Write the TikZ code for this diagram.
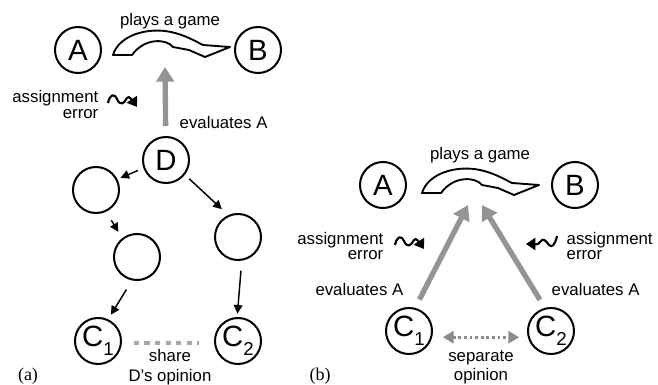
\documentclass[tikz,border=0pt]{standalone}
\usepackage{fontspec}
\setmainfont{Liberation Sans}
\newfontfamily\tagfont{Liberation Serif}
\usetikzlibrary{arrows.meta,positioning,calc}
\newcommand{\csub}[1]{\raisebox{-6.5pt}{\fontsize{14}{14}\selectfont #1}}

\begin{document}
\begin{tikzpicture}[x=0.75pt,y=-0.75pt,>=Stealth,
  every node/.style={font=\fontsize{12.6}{12}\selectfont},
  agent/.style={circle,draw,line width=1.5pt,minimum size=34.5pt,inner sep=0pt,font=\fontsize{22}{22}\selectfont},
  link/.style={-{Triangle[width=6.5pt,length=6.5pt]},line width=1.1pt},
  evalarrow/.style={-{Triangle[width=13pt,length=11pt]},line width=4pt,black!42},
  squig/.style={-{Triangle[width=9pt,length=7pt]},line width=1.6pt,line join=round},
  gamearrow/.pic={\draw[line width=1.4pt,fill=white,line join=round] (0,0) .. controls (6,-20) and (35,-28) .. (58,-23) .. controls (72,-20) and (82,-14) .. (90,-10) -- (117,-8) -- (92,2) -- (76,-5) -- (60,-8) .. controls (54,-16) and (32,-18) .. (19,0) -- cycle;}]
  \useasboundingbox (0,0) rectangle (658,385);
  % (a) one judge D, opinion passed down to C1 and C2
  \node[agent] (A1) at (78,50) {A};
  \node[agent] (B1) at (258,50) {B};
  \node (game1) at (170,21) {plays a game};
  \pic at (113,55) {gamearrow};
  \node[agent] (D) at (166,160) {D};
  \node[agent] (m1) at (96,190) {};
  \node[agent] (m2) at (137,257) {};
  \node[agent] (m3) at (238,237) {};
  \node[agent] (C1a) at (98,341) {C\csub{1}};
  \node[agent] (C2a) at (238,341) {C\csub{2}};
  \draw[link,shorten <=4.5pt,shorten >=2.5pt] (D.200) -- (m1.27);
  \draw[link,shorten <=4.5pt,shorten >=6.5pt] (D.-38) -- (m3.114);
  \draw[link,shorten <=7.5pt,shorten >=5.5pt] (m1.-65) -- (m2.128);
  \draw[link,shorten <=8pt,shorten >=4pt] (m2.258) -- (C1a.65);
  \draw[link,shorten <=7.5pt,shorten >=2.5pt] (m3.-81) -- (C2a.92);
  \coordinate (evtop) at (165,67);
  \draw[evalarrow,shorten <=7.5pt] (D) -- (evtop);
  \node[anchor=west] (ev1) at (175,122) {evaluates A};
  \node[anchor=east,align=right] (err1) at (103,104) {assignment\\error};
  \draw[squig] (108,103) .. controls (110,94) and (114,93) .. (117,99) .. controls (120,106) and (124,104) .. (127,98) .. controls (129,95) and (132,100) .. (135,104) -- (137,107);
  \draw[black!35,line width=3.5pt,dash pattern=on 3.9pt off 4pt,shorten <=9pt,shorten >=11pt] (C1a.-5) -- (C2a.185);
  \node[align=center,font=\fontsize{12.6}{14.5}\selectfont] (share) at (170,367) {share\\D's opinion};
  \node[font=\tagfont\fontsize{13.5}{13.5}\selectfont] (tagA) at (28,376) {(a)};
  % (b) two separate judges C1 and C2
  \node[agent] (A2) at (383,185) {A};
  \node[agent] (B2) at (575,185) {B};
  \node (game2) at (480,155) {plays a game};
  \pic at (422,193) {gamearrow};
  \node[agent] (C1b) at (409,331) {C\csub{1}};
  \node[agent] (C2b) at (551,331) {C\csub{2}};
  \coordinate (tipL) at (468,205);
  \coordinate (tipR) at (482,205);
  \draw[evalarrow,shorten <=7pt] (C1b.75) -- (tipL);
  \draw[evalarrow,shorten <=7pt] (C2b.105) -- (tipR);
  \node[anchor=east] (ev2) at (408,289) {evaluates A};
  \node[anchor=west] (ev3) at (547,289) {evaluates A};
  \node[anchor=east,align=right,font=\fontsize{12.6}{11.5}\selectfont] (err2) at (388,246) {assignment\\error};
  \node[anchor=west,align=left,font=\fontsize{12.6}{11.5}\selectfont] (err3) at (562,246) {assignment\\error};
  \draw[squig] (395,245) .. controls (397,236) and (401,235) .. (404,241) .. controls (407,248) and (411,246) .. (414,240) .. controls (416,237) and (419,242) .. (422,246) -- (424,249);
  \draw[squig] (557,236) .. controls (555,245) and (552,248) .. (549,245) .. controls (546,241) and (543,237) .. (540,242) .. controls (538,246) and (533,244) .. (528,244) -- (526,244);
  \draw[<->,>={Triangle[width=9pt,length=8pt]},black!45,line width=2pt,dash pattern=on 2pt off 2.2pt,shorten <=8pt,shorten >=6.5pt] (C1b.-15) -- (C2b.195);
  \node[align=center,font=\fontsize{12.6}{14.5}\selectfont] (sep) at (481,367) {separate\\opinion};
  \node[font=\tagfont\fontsize{13.5}{13.5}\selectfont] (tagB) at (320,376) {(b)};
\end{tikzpicture}
\end{document}
